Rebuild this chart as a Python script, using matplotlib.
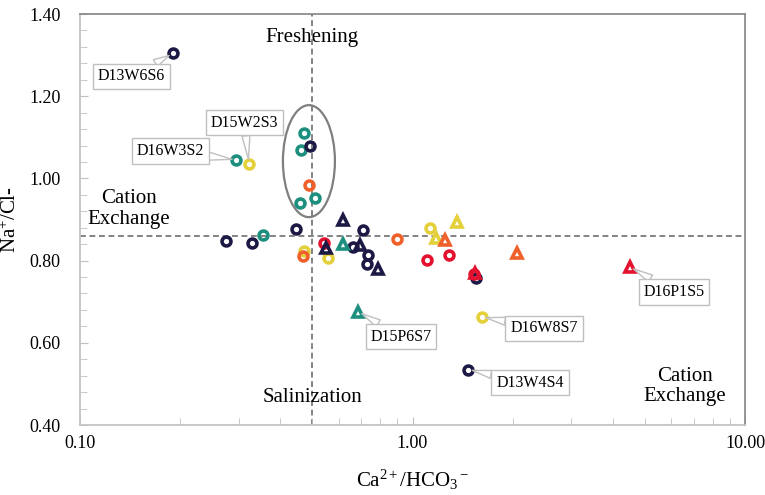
import matplotlib
matplotlib.use('Agg')
import matplotlib.pyplot as plt
from matplotlib.patches import Ellipse
from matplotlib.transforms import ScaledTranslation
from matplotlib.ticker import FixedLocator, FuncFormatter

plt.rcParams['font.family'] = ['Liberation Serif', 'DejaVu Serif']
plt.rcParams['mathtext.fontset'] = 'custom'
plt.rcParams['mathtext.rm'] = 'Liberation Serif'
plt.rcParams['mathtext.it'] = 'Liberation Serif:italic'

# colours of the sample groups
navy = '#1c1a45'
teal = '#1c8f7e'
yellow = '#e3d03a'
orange = '#f0602a'
red = '#e3132f'

# Ca/HCO3 (x) and Na/Cl (y) per group, circles and triangles
navy_circ_x = [0.19, 0.49, 0.275, 0.33, 0.445, 0.71, 0.66, 0.735, 0.73, 1.55, 1.47]
navy_circ_y = [1.304, 1.08, 0.848, 0.844, 0.877, 0.875, 0.834, 0.813, 0.792, 0.758, 0.535]
navy_tri_x = [0.55, 0.62, 0.695, 0.79]
navy_tri_y = [0.831, 0.899, 0.838, 0.780]
teal_circ_x = [0.295, 0.472, 0.461, 0.459, 0.509, 0.356]
teal_circ_y = [1.045, 1.111, 1.069, 0.939, 0.952, 0.862]
teal_tri_x = [0.62, 0.686]
teal_tri_y = [0.840, 0.676]
yellow_circ_x = [0.322, 0.472, 0.557, 1.13, 1.615]
yellow_circ_y = [1.036, 0.824, 0.807, 0.879, 0.663]
yellow_tri_x = [1.18, 1.36]
yellow_tri_y = [0.855, 0.895]
orange_circ_x = [0.489, 0.468, 0.897]
orange_circ_y = [0.984, 0.811, 0.852]
orange_tri_x = [1.25, 2.06]
orange_tri_y = [0.850, 0.819]
red_circ_x = [0.542, 1.108, 1.288, 1.53]
red_circ_y = [0.843, 0.801, 0.814, 0.767]
red_tri_x = [1.54, 4.5]
red_tri_y = [0.77, 0.785]

# labelled samples: name, point, label position
callout_names = ['D13W6S6', 'D15W2S3', 'D16W3S2', 'D15P6S7', 'D16W8S7', 'D16P1S5', 'D13W4S4']
callout_pts = [(0.19, 1.304), (0.322, 1.036), (0.295, 1.045), (0.686, 0.676),
               (1.615, 0.663), (4.5, 0.785), (1.47, 0.535)]
callout_txt = [(0.143, 1.248), (0.3125, 1.136), (0.1866, 1.067), (0.923, 0.615),
               (2.486, 0.635), (6.116, 0.724), (2.256, 0.503)]

x_ticks = [0.1, 1.0, 10.0]
y_ticks = [0.4, 0.6, 0.8, 1.0, 1.2, 1.4]
x_split = 0.5
y_split = 0.86

fig = plt.figure(figsize=(7.65, 4.95), dpi=100)
ax = fig.add_axes([0.1046, 0.1414, 0.8693, 0.8303])
ax.set_xscale('log')
ax.set_xlim(0.1, 10)
ax.set_ylim(0.4, 1.4)

ax.axvline(x_split, color='#6e6e6e', lw=1.2, ls=(0, (3.5, 2.2)), zorder=1)
ax.axhline(y_split, color='#6e6e6e', lw=1.2, ls=(0, (3.5, 2.2)), zorder=1)

def pts(xs, ys, col, mk, ms):
    ax.plot(xs, ys, ls='none', marker=mk, ms=ms, mfc='none', mec=col, mew=2.6, zorder=3)

pts(teal_circ_x, teal_circ_y, teal, 'o', 6.4)
pts(yellow_circ_x, yellow_circ_y, yellow, 'o', 6.4)
pts(navy_circ_x, navy_circ_y, navy, 'o', 6.4)
pts(orange_circ_x, orange_circ_y, orange, 'o', 6.4)
pts(red_circ_x, red_circ_y, red, 'o', 6.4)
pts(navy_tri_x, navy_tri_y, navy, '^', 7.4)
pts(teal_tri_x, teal_tri_y, teal, '^', 7.4)
pts(yellow_tri_x, yellow_tri_y, yellow, '^', 7.4)
pts(orange_tri_x, orange_tri_y, orange, '^', 7.4)
pts(red_tri_x, red_tri_y, red, '^', 7.4)

# ellipse around the freshening group
trans = fig.dpi_scale_trans + ScaledTranslation(0.488, 1.042, ax.transData)
ax.add_patch(Ellipse((0, 0), 0.52, 1.12, transform=trans, fill=False,
                     ec='#7f7f7f', lw=1.6, zorder=2))

for name, p, t in zip(callout_names, callout_pts, callout_txt):
    ax.annotate(name, xy=p, xytext=t, fontsize=11.5, ha='center', va='center',
                bbox=dict(boxstyle='square,pad=0.3', fc='white', ec='#bfbfbf', lw=1),
                arrowprops=dict(arrowstyle='wedge,tail_width=0.5,shrink_factor=0.5',
                                fc='white', ec='#bfbfbf', lw=1, shrinkA=0, shrinkB=3),
                zorder=4)

ax.text(0.5, 1.344, 'Freshening', fontsize=15, ha='center', va='center')
ax.text(0.14, 0.926, 'Cation\nExchange', fontsize=15, ha='center', va='center', linespacing=1.1)
ax.text(0.5, 0.468, 'Salinization', fontsize=15, ha='center', va='center')
ax.text(6.6, 0.493, 'Cation\nExchange', fontsize=15, ha='center', va='center', linespacing=1.1)

ax.xaxis.set_major_locator(FixedLocator(x_ticks))
ax.xaxis.set_major_formatter(FuncFormatter(lambda v, p: '%.2f' % v))
ax.xaxis.set_minor_formatter(FuncFormatter(lambda v, p: ''))
ax.set_yticks(y_ticks)
ax.set_yticks([0.4 + 0.04 * i for i in range(26)], minor=True)
ax.yaxis.set_major_formatter(FuncFormatter(lambda v, p: '%.2f' % v))

ax.tick_params(which='both', direction='in', color='#bfbfbf', labelsize=13,
               top=False, right=False)
ax.tick_params(which='major', length=6)
ax.tick_params(which='minor', length=5)
ax.tick_params(axis='y', pad=14)
ax.tick_params(axis='x', pad=7)

for s in ['left', 'bottom']:
    ax.spines[s].set_color('#c4c4c4')
for s in ['top', 'right']:
    ax.spines[s].set_color('#8c8c8c')
for s in ax.spines.values():
    s.set_linewidth(1.3)

ax.set_xlabel(r'Ca$^{2+}$/HCO$_3$$^-$', fontsize=15)
ax.set_ylabel(r'Na$^{+}$/Cl-', fontsize=15)
ax.xaxis.set_label_coords(0.5, -0.105)
ax.yaxis.set_label_coords(-0.088, 0.5)

fig.savefig('out.png', dpi=100)
